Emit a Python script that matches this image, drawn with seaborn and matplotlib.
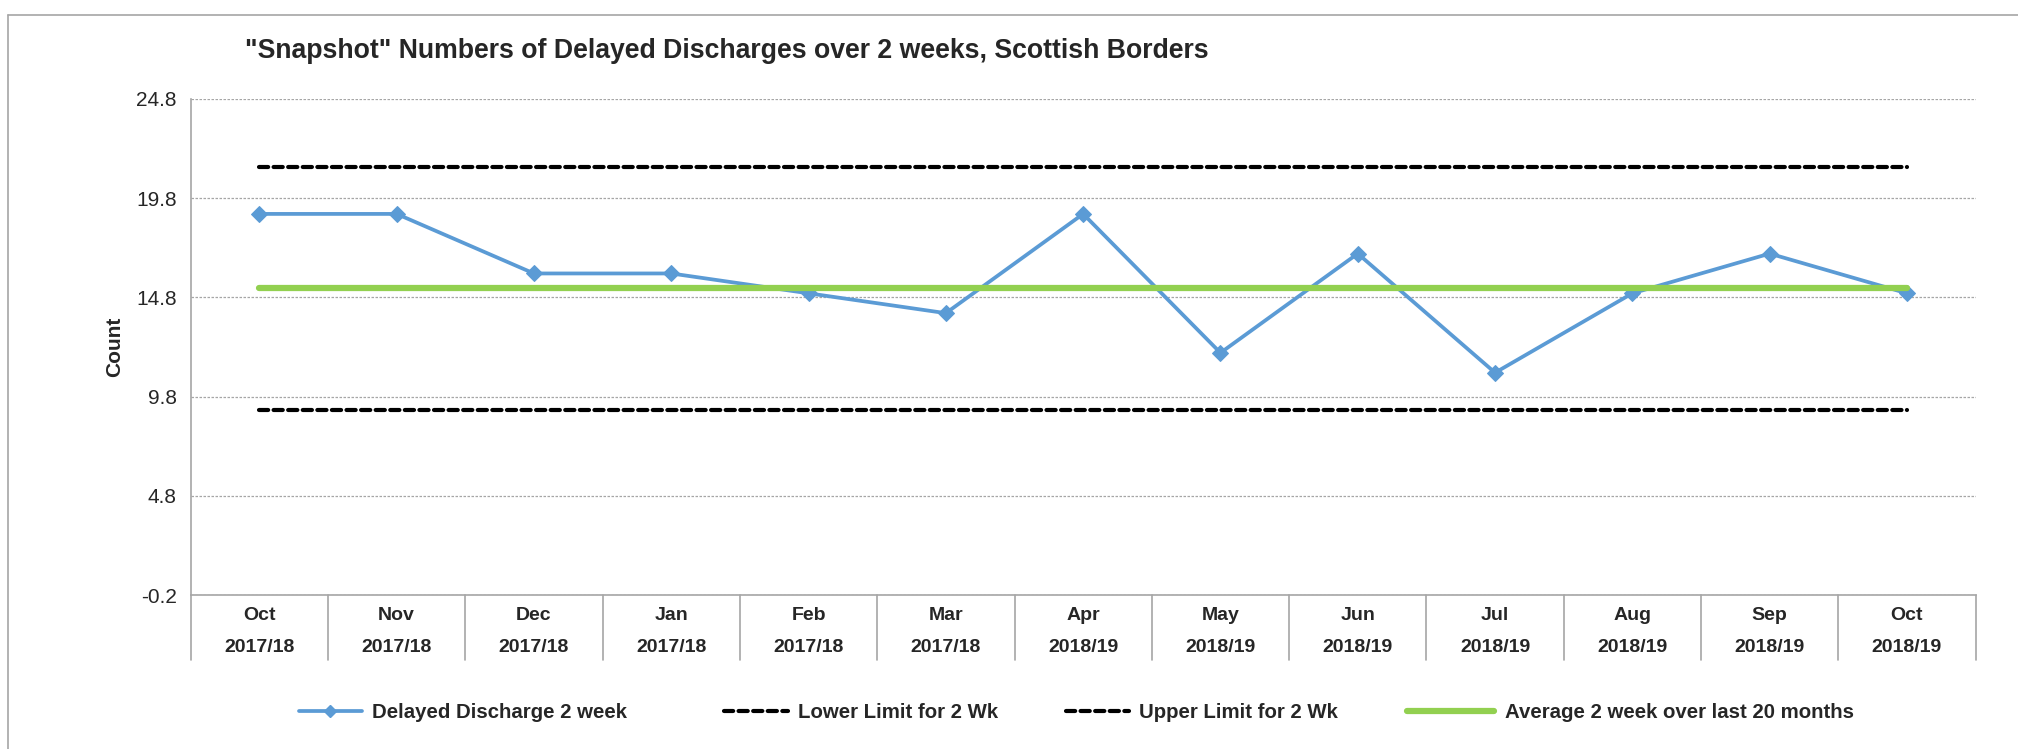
import numpy as np
import pandas as pd
import seaborn as sns
import matplotlib.pyplot as plt
from matplotlib.lines import Line2D
import matplotlib.transforms as mtransforms

# data
months = ["Oct", "Nov", "Dec", "Jan", "Feb", "Mar", "Apr",
          "May", "Jun", "Jul", "Aug", "Sep", "Oct"]
years = ["2017/18"] * 6 + ["2018/19"] * 7
delayed = [19, 19, 16, 16, 15, 14, 19, 12, 17, 11, 15, 17, 15]
lower_limit = [9.1] * 13
upper_limit = [21.35] * 13
average = [15.25] * 13
y_ticks = [-0.2, 4.8, 9.8, 14.8, 19.8, 24.8]

sns.set_style("white")
plt.rcParams["font.family"] = ["Liberation Sans", "DejaVu Sans"]

df = pd.DataFrame({
    "pos": np.arange(len(months)),
    "Delayed Discharge 2 week": delayed,
    "Lower Limit for 2 Wk": lower_limit,
    "Upper Limit for 2 Wk": upper_limit,
    "Average 2 week over last 20 months": average,
})

fig = plt.figure(figsize=(20.18, 7.49), dpi=100)
ax = fig.add_axes([0.0945, 0.2056, 0.8845, 0.6625])

grey = "#A6A6A6"
blue = "#5B9BD5"
green = "#92D050"
dash = (0, (2.2, 1.3))

# grid first so lines sit on top
for yv in y_ticks:
    ax.axhline(yv, color=grey, lw=0.9, ls=(0, (2, 1.2)), zorder=0)

sns.lineplot(data=df, x="pos", y="Lower Limit for 2 Wk", ax=ax, color="black",
             lw=3, ls=dash, dash_capstyle="round", zorder=2)
sns.lineplot(data=df, x="pos", y="Upper Limit for 2 Wk", ax=ax, color="black",
             lw=3, ls=dash, dash_capstyle="round", zorder=2)
sns.lineplot(data=df, x="pos", y="Delayed Discharge 2 week", ax=ax, color=blue,
             lw=2.7, marker="D", markersize=8, markeredgecolor=blue, zorder=3)
sns.lineplot(data=df, x="pos", y="Average 2 week over last 20 months", ax=ax,
             color=green, lw=4.5, solid_capstyle="round", zorder=4)

ax.set_xlim(-0.5, len(months) - 0.5)
ax.set_ylim(-0.2, 24.8)
ax.set_yticks(y_ticks)
ax.set_yticklabels([f"{v:.1f}" for v in y_ticks], fontsize=15)
ax.tick_params(axis="y", length=6, width=1, color=grey, direction="out", pad=4)
ax.set_xticks([])
ax.set_xlabel("")
ax.set_ylabel("Count", fontsize=15, fontweight="bold")
ax.yaxis.set_label_coords(-0.0375, 0.5)

for side in ["top", "right"]:
    ax.spines[side].set_visible(False)
ax.spines["left"].set_color(grey)
ax.spines["bottom"].set_color(grey)
ax.spines["left"].set_linewidth(1.2)
ax.spines["bottom"].set_linewidth(1.2)

# two level category axis
trans = mtransforms.blended_transform_factory(ax.transData, ax.transAxes)
for i in range(len(months) + 1):
    ax.plot([i - 0.5, i - 0.5], [0, -0.131], transform=trans, color=grey,
            lw=1.2, clip_on=False)
for i, (m, yr) in enumerate(zip(months, years)):
    ax.text(i, -0.041, m, transform=trans, ha="center", va="center",
            fontsize=14, fontweight="bold")
    ax.text(i, -0.106, yr, transform=trans, ha="center", va="center",
            fontsize=14, fontweight="bold")

fig.text(0.1213, 0.932, '"Snapshot" Numbers of Delayed Discharges over 2 weeks, Scottish Borders',
         fontsize=19.2, fontweight="bold", ha="left", va="center")

# legend entries placed one by one, like Excel spaces them
handles = [
    Line2D([], [], color=blue, lw=2.7, marker="D", markersize=6),
    Line2D([], [], color="black", lw=3, ls=dash, dash_capstyle="round"),
    Line2D([], [], color="black", lw=3, ls=dash, dash_capstyle="round"),
    Line2D([], [], color=green, lw=4.5),
]
labels = ["Delayed Discharge 2 week", "Lower Limit for 2 Wk",
          "Upper Limit for 2 Wk", "Average 2 week over last 20 months"]
legend_x = [0.148, 0.359, 0.528, 0.697]
handle_len = [3.1, 3.1, 3.1, 4.3]
for h, lab, lx, hl in zip(handles, labels, legend_x, handle_len):
    fig.legend([h], [lab], loc="center left", bbox_to_anchor=(lx, 0.049),
               frameon=False, handlelength=hl, handletextpad=0.5,
               borderpad=0, borderaxespad=0,
               prop={"weight": "bold", "size": 14.7})

# chart area border (cropped on the right and bottom)
fig.add_artist(Line2D([0.004, 1.0], [0.98, 0.98], color=grey, lw=1.2,
                      transform=fig.transFigure))
fig.add_artist(Line2D([0.004, 0.004], [0.0, 0.98], color=grey, lw=1.2,
                      transform=fig.transFigure))

fig.savefig("out.png", dpi=100)
